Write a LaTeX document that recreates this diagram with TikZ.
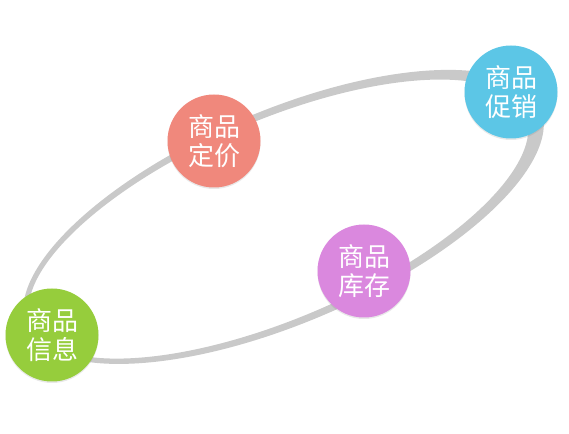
\documentclass[tikz,border=0pt]{standalone}
\usepackage{fontspec}
\newfontfamily\cjkfont{Noto Sans CJK SC}
\usetikzlibrary{shadows}
\definecolor{ringgray}{HTML}{C9C9C9}
\definecolor{cPrice}{HTML}{F0887C}
\definecolor{cPromo}{HTML}{5CC6E6}
\definecolor{cStock}{HTML}{DA88DE}
\definecolor{cInfo}{HTML}{96CD3C}
\tikzset{
  bubble/.style={circle, minimum size=93pt, inner sep=0pt, text=white,
    align=center, font={\cjkfont\fontsize{26}{29}\selectfont},
    drop shadow={shadow xshift=0pt, shadow yshift=-1.5pt, opacity=0.18}},
}
\begin{document}
\begin{tikzpicture}[x=1pt,y=1pt]
\useasboundingbox (0,0) rectangle (569,433);
\begin{scope}[shift={(281,215)}, rotate=23.2]
  \fill[ringgray, even odd rule]
    (2.75,0) ellipse [x radius=279.5pt, y radius=106pt]
    (-2.75,0) ellipse [x radius=268.5pt, y radius=99pt];
\end{scope}
\node[bubble, fill=cPrice] (price) at (214,292) {商品\\定价};
\node[bubble, fill=cPromo] (promo) at (511,341) {商品\\促销};
\node[bubble, fill=cStock] (stock) at (364,162) {商品\\库存};
\node[bubble, fill=cInfo]  (info)  at (52,98)   {商品\\信息};
\end{tikzpicture}
\end{document}
